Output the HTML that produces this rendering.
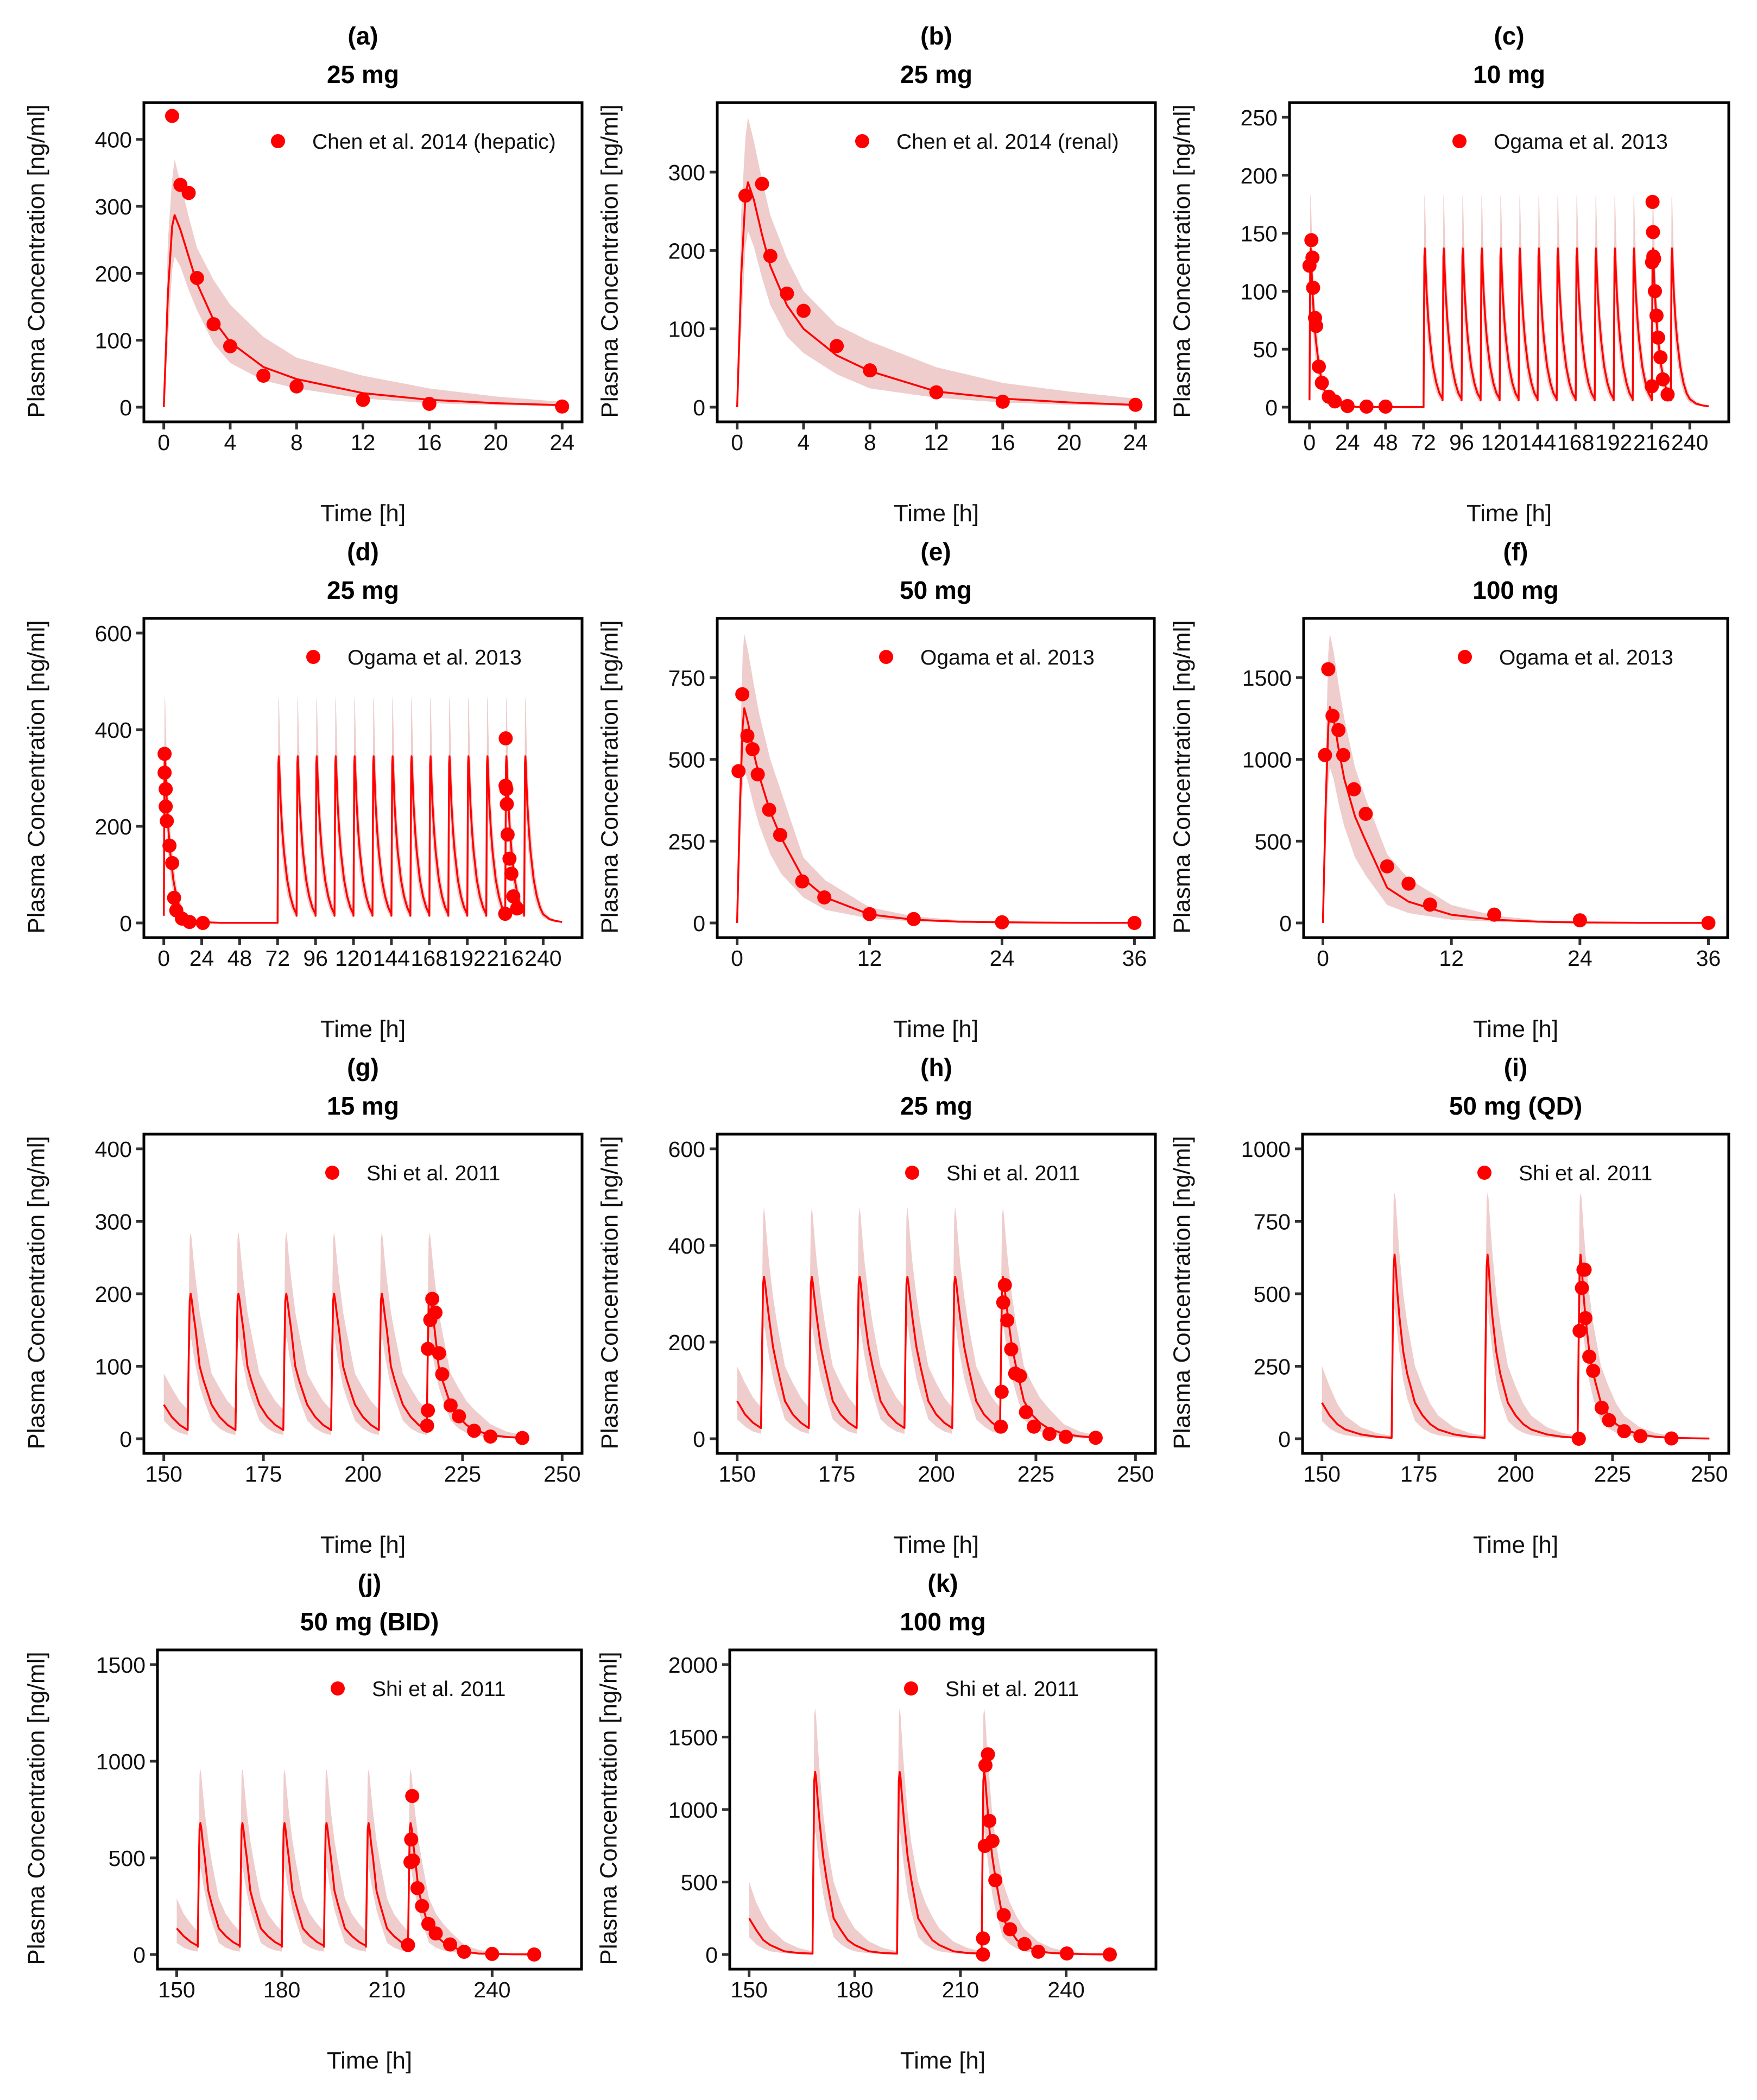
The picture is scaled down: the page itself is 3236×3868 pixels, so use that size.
<!DOCTYPE html>
<html><head><meta charset="utf-8">
<style>
html,body{margin:0;padding:0;background:#fff;}
svg{display:block;font-family:"Liberation Sans",Arial,sans-serif;}
</style></head>
<body>
<svg id="fig" width="3236" height="3868" viewBox="0 0 3236 3868" xmlns="http://www.w3.org/2000/svg"></svg>
<script>
// ---------- shared time grids ----------
const sdTime = [0,0.25,0.5,0.65,1,1.5,2,3,4,6,8,12,16,20,24,30,36];
const profTime = [0,0.25,0.5,0.75,1,1.5,2,3,4,6,8,10,12,16,20,24,30,36];

// ---------- (a) ----------
const aMed = [0,170,270,287,265,225,185,130,97,60,42,21,11,6,3,2,1];
const aHi  = [0,250,340,370,335,285,238,190,153,105,74,47,28,16,8,5,3];
const aLo  = [0,100,205,225,210,175,145,95,66,40,28,13,6,3,1.5,1,0.5];
const aObsT = [0.5,1,1.5,2,3,4,6,8,12,16,24];
const aObsC = [435,332,320,193,124,91,47,31,11,5,1];
// ---------- (b) ----------
const bMed = [0,170,270,287,265,220,180,130,100,66,46,20,11,6,3,2,1];
const bHi  = [0,250,345,370,340,290,245,190,148,105,84,51,31,20,11,6,3];
const bLo  = [0,100,205,225,205,165,130,90,69,42,24,12,6,3,1.5,1,0.5];
const bObsT = [0.5,1.5,2,3,4,6,8,12,16,24];
const bObsC = [270,285,193,145,123,78,47,19,7,3];
// ---------- (c) ----------
const cMed = [6,70,130,137,130,112,97,75,58,35,21,12,7,3,1.5,0.8,0.3,0.1];
const cHi  = [8,110,180,185,175,150,130,100,78,48,30,18,10,5,2.5,1.2,0.5,0.2];
const cLo  = [4,40,95,100,95,80,68,52,40,23,13,7,4,1.5,0.8,0.4,0.1,0.05];
const cDoses = [0,72,84,96,108,120,132,144,156,168,180,192,204,216,228];
const cObsT = [0,1.2,1.9,2.3,3.5,4.2,5.9,7.8,12.2,16,24,36,48,216,216.2,216.5,216.8,217,217.5,218,219,220,221.5,223,226];
const cObsC = [122,144,129,103,77,70,35,21,9,5,1,0.5,0.5,18,125,177,151,130,128,100,79,60,43,24,11];
// ---------- (d) ----------
const dMed = [15,175,330,345,330,285,245,190,148,90,55,32,18,8,4,2,1,0.3];
const dHi  = [20,280,460,470,445,385,330,255,200,125,78,47,27,12,6,3,1,0.5];
const dLo  = [10,100,240,255,240,205,175,135,102,60,35,20,11,4,2,1,0.5,0.2];
const dDoses = [0,72,84,96,108,120,132,144,156,168,180,192,204,216,228];
const dObsT = [0.5,0.5,1.2,1.2,1.9,3.6,5.3,6.5,7.9,11.5,16.3,24.7,216,216.3,216.2,216.7,217,217.5,218.7,219.9,221.1,223.5];
const dObsC = [350,311,277,241,211,160,124,52,26,9,2,0,19,382,284,277,246,183,133,102,55,30];
// ---------- (e) ----------
const eMed = [0,350,600,656,610,520,450,340,260,135,78,26,10,4,2,0.7,0.3];
const eHi  = [0,500,820,884,830,730,640,500,400,200,130,48,20,9,4,1.5,0.6];
const eLo  = [0,200,420,470,430,360,300,210,150,78,40,14,5,2,1,0.3,0.1];
const eObsT = [0.13,0.47,0.93,1.4,1.87,2.9,3.9,5.9,7.9,12,16,24,36];
const eObsC = [464,699,572,531,454,346,269,127,78,27,12,2,0];
// ---------- (f) ----------
const fMed = [0,700,1200,1320,1250,1050,880,650,500,215,130,50,20,8,3,1,0.3];
const fHi  = [0,1000,1650,1770,1660,1440,1250,950,760,420,270,110,45,18,7,2,1];
const fLo  = [0,400,850,950,880,720,590,400,290,110,60,20,7,3,1,0.3,0.1];
const fObsT = [0.2,0.5,0.9,1.45,1.9,2.9,4,6,8,10,16,24,36];
const fObsC = [1026,1551,1266,1179,1026,817,667,346,240,112,51,16,0];
// ---------- (g) ----------
const gMed = [12,110,190,200,192,170,150,100,80,47,30,19,12,5,2.5,1.2,0.5,0.2];
const gHi  = [40,180,275,285,275,245,220,175,145,90,70,52,40,20,10,5,2,1];
const gLo  = [5,60,120,140,135,115,100,72,55,25,14,8,5,2,1,0.5,0.2,0.1];
const gDoses = [144,156,168,180,192,204,216];
const gObsT = [216.1,216.3,216.3,216.9,217.4,218.2,219.1,219.9,222,224.1,227.9,232,240];
const gObsC = [18,39,124,164,193,174,118,89,46,31,11,3,1];
// ---------- (h) ----------
const hMed = [25,180,320,335,322,285,250,190,150,78,50,33,22,10,5,2.5,1,0.5];
const hHi  = [70,300,460,480,460,410,365,295,240,150,115,85,65,30,15,7,3,1];
const hLo  = [10,100,210,235,225,195,170,125,95,40,25,15,10,4,2,1,0.5,0.2];
const hDoses = [144,156,168,180,192,204,216];
const hObsT = [216.2,216.4,216.8,217.2,217.8,218.8,219.8,221,222.5,224.5,228.4,232.5,240];
const hObsC = [25,97,282,318,245,185,135,130,55,25,10,4,2];
// ---------- (i) ----------
const iMed = [6,330,590,635,600,500,420,300,225,124,80,50,32,15,7,3,1.5,0.5];
const iHi  = [20,500,820,850,830,730,640,500,400,251,180,120,80,40,20,10,4,2];
const iLo  = [3,200,420,450,430,360,300,200,140,61,35,20,12,5,2,1,0.3,0.1];
const iDoses = [144,168,192,216];
const iObsT = [216.3,216.5,217.1,217.5,217.8,218,219,220,222.2,224.1,228,232.2,240.2];
const iObsC = [0,372,520,583,583,416,283,234,107,64,26,9,1];
// ---------- (j) ----------
const jMed = [40,380,650,680,655,570,500,330,260,135,95,65,45,15,5,3,1,0.5];
const jHi  = [90,600,930,960,930,830,740,590,480,290,210,160,120,50,25,12,5,2];
const jLo  = [15,200,420,450,430,370,320,230,170,60,35,22,15,5,2,1,0.4,0.1];
const jDoses = [144,156,168,180,192,204,216];
const jObsT = [216,216.7,216.9,217.2,217.4,218.7,220,221.8,223.9,228,232,240,252];
const jObsC = [49,478,595,820,486,343,251,158,109,52,14,3,0];
// ---------- (k) ----------
const kMed = [6,650,1200,1260,1220,1060,920,680,520,250,170,100,65,22,10,6,2,0.7];
const kHi  = [12,1000,1650,1700,1650,1450,1280,980,780,500,360,260,180,90,45,22,8,3];
const kLo  = [2,350,800,850,820,700,600,420,300,120,70,40,22,8,3,1,0.4,0.1];
const kDoses = [144,168,192,216];
const kObsT = [216.4,216.4,216.9,217.1,217.8,218.2,219.1,219.9,222.3,224.1,228.2,232.1,240.2,252.4];
const kObsC = [0,111,749,1305,1381,922,783,512,271,174,72,19,7,0];

// ---------- tick arrays ----------
const xt24 = [0,4,8,12,16,20,24];
const xt252 = [0,24,48,72,96,120,144,168,192,216,240];
const xt36 = [0,12,24,36];
const xt250 = [150,175,200,225,250];
const xt260 = [150,180,210,240];
const ytA = [0,100,200,300,400], ytB=[0,100,200,300], ytC=[0,50,100,150,200,250], ytD=[0,200,400,600];
const ytE = [0,250,500,750], ytF=[0,500,1000,1500], ytG=[0,100,200,300,400], ytH=[0,200,400,600];
const ytI = [0,250,500,750,1000], ytJ=[0,500,1000,1500], ytK=[0,500,1000,1500,2000];

// ---------- panel layout (positions/styles only) ----------
const panels = [
 {id:'a',lab:'(a)',dose:'25 mg',x0:265,x1:1072,row:0,xd:[0,24],ymax:433,xt:xt24,yt:ytA,leg:'Chen et al. 2014 (hepatic)',lx:512,ylx:70,sd:{med:aMed,hi:aHi,lo:aLo},ot:aObsT,oc:aObsC},
 {id:'b',lab:'(b)',dose:'25 mg',x0:1321,x1:2128,row:0,xd:[0,24],ymax:370,xt:xt24,yt:ytB,leg:'Chen et al. 2014 (renal)',lx:1588,ylx:1126,sd:{med:bMed,hi:bHi,lo:bLo},ot:bObsT,oc:bObsC},
 {id:'c',lab:'(c)',dose:'10 mg',x0:2375,x1:3184,row:0,xd:[0,252],ymax:250,xt:xt252,yt:ytC,leg:'Ogama et al. 2013',lx:2688,ylx:2180,md:{med:cMed,hi:cHi,lo:cLo,doses:cDoses,ts:0,te:252},ot:cObsT,oc:cObsC},
 {id:'d',lab:'(d)',dose:'25 mg',x0:265,x1:1072,row:1,xd:[0,252],ymax:600,xt:xt252,yt:ytD,leg:'Ogama et al. 2013',lx:577,ylx:70,md:{med:dMed,hi:dHi,lo:dLo,doses:dDoses,ts:0,te:252},ot:dObsT,oc:dObsC},
 {id:'e',lab:'(e)',dose:'50 mg',x0:1321,x1:2126,row:1,xd:[0,36],ymax:886,xt:xt36,yt:ytE,leg:'Ogama et al. 2013',lx:1632,ylx:1126,sd:{med:eMed,hi:eHi,lo:eLo},ot:eObsT,oc:eObsC},
 {id:'f',lab:'(f)',dose:'100 mg',x0:2401,x1:3182,row:1,xd:[0,36],ymax:1772,xt:xt36,yt:ytF,leg:'Ogama et al. 2013',lx:2698,ylx:2180,sd:{med:fMed,hi:fHi,lo:fLo},ot:fObsT,oc:fObsC},
 {id:'g',lab:'(g)',dose:'15 mg',x0:265,x1:1072,row:2,xd:[150,250],ymax:400,xt:xt250,yt:ytG,leg:'Shi et al. 2011',lx:612,ylx:70,md:{med:gMed,hi:gHi,lo:gLo,doses:gDoses,ts:150,te:240},ot:gObsT,oc:gObsC},
 {id:'h',lab:'(h)',dose:'25 mg',x0:1321,x1:2128,row:2,xd:[150,250],ymax:600,xt:xt250,yt:ytH,leg:'Shi et al. 2011',lx:1680,ylx:1126,md:{med:hMed,hi:hHi,lo:hLo,doses:hDoses,ts:150,te:240},ot:hObsT,oc:hObsC},
 {id:'i',lab:'(i)',dose:'50 mg (QD)',x0:2399,x1:3184,row:2,xd:[150,250],ymax:1000,xt:xt250,yt:ytI,leg:'Shi et al. 2011',lx:2734,ylx:2180,md:{med:iMed,hi:iHi,lo:iLo,doses:iDoses,ts:150,te:250},ot:iObsT,oc:iObsC},
 {id:'j',lab:'(j)',dose:'50 mg (BID)',x0:290,x1:1071,row:3,xd:[150,260],ymax:1500,xt:xt260,yt:ytJ,leg:'Shi et al. 2011',lx:622,ylx:70,md:{med:jMed,hi:jHi,lo:jLo,doses:jDoses,ts:150,te:252},ot:jObsT,oc:jObsC},
 {id:'k',lab:'(k)',dose:'100 mg',x0:1344,x1:2129,row:3,xd:[150,260],ymax:2000,xt:xt260,yt:ytK,leg:'Shi et al. 2011',lx:1678,ylx:1124,md:{med:kMed,hi:kHi,lo:kLo,doses:kDoses,ts:150,te:252},ot:kObsT,oc:kObsC}
];

const NS='http://www.w3.org/2000/svg';
const svg=document.getElementById('fig');
function mk(tag,attrs,parent){const e=document.createElementNS(NS,tag);for(const k in attrs)e.setAttribute(k,attrs[k]);(parent||svg).appendChild(e);return e;}
function interp(ts,vs,t){if(t<=ts[0])return vs[0];for(let i=1;i<ts.length;i++){if(t<=ts[i]){const f=(t-ts[i-1])/(ts[i]-ts[i-1]);return vs[i-1]+f*(vs[i]-vs[i-1]);}}return vs[vs.length-1];}

function buildMulti(md){
  const pts=[];
  const n=md.doses.length;
  for(let i=0;i<n;i++){
    const d=md.doses[i]; const e=(i<n-1)?md.doses[i+1]:md.te;
    for(let k=0;k<profTime.length;k++){
      if(profTime[k]<e-d) pts.push({t:d+profTime[k],m:md.med[k],h:md.hi[k],l:md.lo[k]});
    }
    pts.push({t:e,m:interp(profTime,md.med,e-d),h:interp(profTime,md.hi,e-d),l:interp(profTime,md.lo,e-d)});
  }
  const out=[];
  for(let i=0;i<pts.length;i++){
    const p=pts[i];
    if(i>0){const q=pts[i-1];
      if(q.t<md.ts&&p.t>md.ts){const f=(md.ts-q.t)/(p.t-q.t);out.push({t:md.ts,m:q.m+f*(p.m-q.m),h:q.h+f*(p.h-q.h),l:q.l+f*(p.l-q.l)});}
    }
    if(p.t>=md.ts&&p.t<=md.te)out.push(p);
  }
  return out;
}

panels.forEach(p=>{
  const T=189+950*p.row, B=T+588;
  const R=p.xd[1]-p.xd[0], dlo=p.xd[0]-0.05*R, span=1.1*R;
  const X=t=>p.x0+(t-dlo)/span*(p.x1-p.x0);
  const Y=v=>T+561-v*534/p.ymax;
  const cx=(p.x0+p.x1)/2;
  const g=mk('g',{});
  
  

  const t1=mk('text',{x:cx,y:T-107,'text-anchor':'middle','font-size':46,'font-weight':'bold',fill:'#000'},g);
  t1.textContent=p.lab;
  
  
  const t2=mk('text',{x:cx,y:T-36,'text-anchor':'middle','font-size':46,'font-weight':'bold',fill:'#000'},g);
  t2.textContent=p.dose;
  
  

  const cid='clip-'+p.id;
  const cp=mk('clipPath',{id:cid},g);
  mk('rect',{x:p.x0,y:T,width:p.x1-p.x0,height:588},cp);
  const plot=mk('g',{'clip-path':'url(#'+cid+')'},g);
  
  

  let pts;
  if(p.sd){pts=sdTime.map((t,i)=>({t:t,m:p.sd.med[i],h:p.sd.hi[i],l:p.sd.lo[i]})).filter(q=>q.t<=p.xd[1]);}
  else pts=buildMulti(p.md);

  let band='';
  pts.forEach(q=>{band+=X(q.t).toFixed(1)+','+Y(q.h).toFixed(1)+' ';});
  for(let i=pts.length-1;i>=0;i--){band+=X(pts[i].t).toFixed(1)+','+Y(pts[i].l).toFixed(1)+' ';}
  const bp=mk('polygon',{points:band,fill:'#efcdcd',stroke:'none'},plot);
  
  
  const ln=mk('polyline',{points:pts.map(q=>X(q.t).toFixed(1)+','+Y(q.m).toFixed(1)).join(' '),fill:'none',stroke:'#ff0000','stroke-width':3.5,'stroke-linejoin':'round'},plot);
  
  

  p.ot.forEach((t,i)=>{
    const c=mk('circle',{cx:X(t),cy:Y(p.oc[i]),r:13,fill:'#ff0000'},plot);
    
    
  });

  const ld=mk('circle',{cx:p.lx,cy:T+71,r:13,fill:'#ff0000'},g);
  
  
  const lt=mk('text',{x:p.lx+63,y:T+85,'font-size':39,fill:'#111'},g);
  lt.textContent=p.leg;
  
  

  const bx=mk('rect',{x:p.x0,y:T,width:p.x1-p.x0,height:588,fill:'none',stroke:'#000','stroke-width':5},g);
  
  

  p.xt.forEach(v=>{
    const x=X(v);
    const tk=mk('line',{x1:x,y1:B+2,x2:x,y2:B+14,stroke:'#333','stroke-width':5},g);
    
    
    const tl=mk('text',{x:x,y:B+52,'text-anchor':'middle','font-size':41,fill:'#111'},g);
    tl.textContent=v;
    
    
  });
  p.yt.forEach(v=>{
    const y=Y(v);
    const tk=mk('line',{x1:p.x0-2,y1:y,x2:p.x0-14,y2:y,stroke:'#333','stroke-width':5},g);
    
    
    const tl=mk('text',{x:p.x0-22,y:y+15,'text-anchor':'end','font-size':41,fill:'#111'},g);
    tl.textContent=v;
    
    
  });
  const xa=mk('text',{x:cx,y:T+771,'text-anchor':'middle','font-size':44,fill:'#111'},g);
  xa.textContent='Time [h]';
  
  
  const yc=T+292;
  const ya=mk('text',{x:p.ylx,y:yc,'text-anchor':'middle','font-size':44,fill:'#111',transform:'rotate(-90 '+(p.ylx)+' '+yc+')','dominant-baseline':'middle'},g);
  ya.textContent='Plasma Concentration [ng/ml]';
  
  
});
</script>
</body></html>
